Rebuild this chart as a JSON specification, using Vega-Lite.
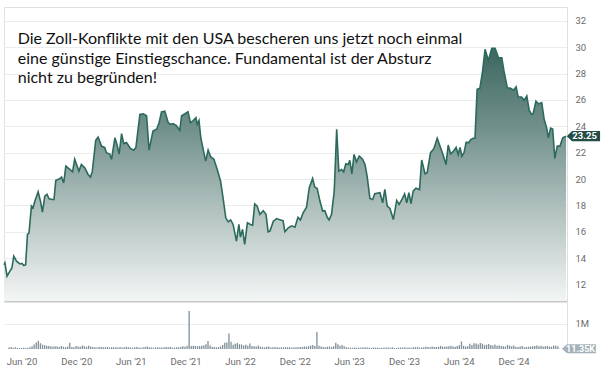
{
 "$schema": "https://vega.github.io/schema/vega-lite/v6.json",
 "padding": {"left": 0, "top": 6, "right": 0, "bottom": 0},
 "background": "white",
 "spacing": 0,
 "config": {"view": {"stroke": null}, "axis": {"labelFont": "Roboto", "labelColor": "#6a6a6a", "labelFontSize": 9.5, "title": null}},
 "datasets": {
  "price": [
{"d":"2020-04-20","p":13.5},{"d":"2020-04-23","p":13.64},{"d":"2020-04-30","p":12.63},{"d":"2020-05-09","p":13.0},{"d":"2020-05-16","p":13.26},{"d":"2020-05-22","p":14.15},{"d":"2020-05-31","p":13.77},{"d":"2020-06-11","p":13.56},{"d":"2020-06-18","p":13.6},{"d":"2020-06-24","p":13.44},{"d":"2020-06-30","p":13.5},{"d":"2020-07-06","p":15.8},{"d":"2020-07-11","p":15.9},{"d":"2020-07-19","p":17.95},{"d":"2020-07-24","p":17.8},{"d":"2020-07-30","p":18.3},{"d":"2020-08-10","p":19.03},{"d":"2020-08-18","p":18.3},{"d":"2020-08-24","p":17.5},{"d":"2020-09-01","p":18.7},{"d":"2020-09-08","p":18.85},{"d":"2020-09-15","p":18.5},{"d":"2020-09-26","p":18.45},{"d":"2020-10-01","p":18.45},{"d":"2020-10-07","p":19.9},{"d":"2020-10-18","p":20.0},{"d":"2020-10-26","p":20.15},{"d":"2020-11-02","p":19.7},{"d":"2020-11-09","p":20.98},{"d":"2020-11-22","p":20.73},{"d":"2020-12-01","p":20.55},{"d":"2020-12-08","p":21.5},{"d":"2020-12-16","p":20.98},{"d":"2020-12-22","p":20.6},{"d":"2020-12-30","p":21.1},
{"d":"2021-01-10","p":20.85},{"d":"2021-01-21","p":20.35},{"d":"2021-01-29","p":20.15},{"d":"2021-02-04","p":20.6},{"d":"2021-02-15","p":22.93},{"d":"2021-02-23","p":23.18},{"d":"2021-03-06","p":22.5},{"d":"2021-03-17","p":22.38},{"d":"2021-03-22","p":22.0},{"d":"2021-04-02","p":21.9},{"d":"2021-04-08","p":21.5},{"d":"2021-04-19","p":23.13},{"d":"2021-04-26","p":22.6},{"d":"2021-05-03","p":21.9},{"d":"2021-05-11","p":23.44},{"d":"2021-05-18","p":22.69},{"d":"2021-05-27","p":22.77},{"d":"2021-06-09","p":22.33},{"d":"2021-06-20","p":22.18},{"d":"2021-06-27","p":22.4},{"d":"2021-07-10","p":24.9},{"d":"2021-07-21","p":24.95},{"d":"2021-08-01","p":24.8},{"d":"2021-08-09","p":22.2},{"d":"2021-08-22","p":23.64},{"d":"2021-09-03","p":23.77},{"d":"2021-09-11","p":24.27},{"d":"2021-09-19","p":25.1},{"d":"2021-09-30","p":25.15},{"d":"2021-10-11","p":24.27},{"d":"2021-10-19","p":24.14},{"d":"2021-10-27","p":24.2},{"d":"2021-11-07","p":24.06},{"d":"2021-11-18","p":23.69},{"d":"2021-11-24","p":24.8},{"d":"2021-12-05","p":24.95},{"d":"2021-12-15","p":25.1},{"d":"2021-12-23","p":24.27},
{"d":"2022-01-01","p":24.44},{"d":"2022-01-10","p":24.65},{"d":"2022-01-14","p":24.14},{"d":"2022-01-20","p":24.44},{"d":"2022-01-26","p":23.13},{"d":"2022-02-05","p":22.0},{"d":"2022-02-11","p":21.36},{"d":"2022-02-19","p":22.2},{"d":"2022-02-27","p":21.7},{"d":"2022-03-10","p":21.5},{"d":"2022-03-21","p":20.73},{"d":"2022-04-01","p":19.84},{"d":"2022-04-09","p":18.58},{"d":"2022-04-18","p":17.06},{"d":"2022-04-26","p":16.75},{"d":"2022-05-04","p":16.9},{"d":"2022-05-12","p":16.56},{"d":"2022-05-23","p":15.29},{"d":"2022-05-31","p":16.56},{"d":"2022-06-05","p":15.6},{"d":"2022-06-12","p":16.18},{"d":"2022-06-19","p":15.04},{"d":"2022-06-28","p":16.68},{"d":"2022-07-08","p":16.56},{"d":"2022-07-15","p":16.5},{"d":"2022-07-22","p":18.12},{"d":"2022-07-30","p":17.95},{"d":"2022-08-08","p":17.32},{"d":"2022-08-19","p":17.6},{"d":"2022-08-28","p":17.32},{"d":"2022-09-04","p":16.0},{"d":"2022-09-10","p":16.05},{"d":"2022-09-21","p":16.8},{"d":"2022-10-02","p":17.0},{"d":"2022-10-15","p":16.9},{"d":"2022-10-23","p":16.85},{"d":"2022-10-29","p":16.0},{"d":"2022-11-09","p":16.3},{"d":"2022-11-20","p":16.45},{"d":"2022-12-01","p":16.35},{"d":"2022-12-11","p":17.1},{"d":"2022-12-19","p":16.9},{"d":"2022-12-28","p":17.44},
{"d":"2023-01-08","p":17.87},{"d":"2023-01-17","p":19.34},{"d":"2023-01-28","p":20.05},{"d":"2023-02-04","p":19.4},{"d":"2023-02-12","p":19.29},{"d":"2023-02-21","p":18.33},{"d":"2023-03-02","p":17.57},{"d":"2023-03-09","p":17.6},{"d":"2023-03-17","p":17.1},{"d":"2023-03-23","p":16.9},{"d":"2023-03-31","p":17.3},{"d":"2023-04-09","p":19.08},{"d":"2023-04-17","p":23.77},{"d":"2023-04-24","p":20.6},{"d":"2023-05-03","p":20.73},{"d":"2023-05-10","p":20.55},{"d":"2023-05-17","p":21.16},{"d":"2023-05-25","p":21.1},{"d":"2023-05-30","p":21.42},{"d":"2023-06-06","p":20.4},{"d":"2023-06-13","p":21.87},{"d":"2023-06-21","p":21.3},{"d":"2023-06-30","p":21.74},{"d":"2023-07-11","p":21.5},{"d":"2023-07-19","p":21.1},{"d":"2023-07-26","p":20.2},{"d":"2023-08-04","p":18.53},{"d":"2023-08-13","p":18.45},{"d":"2023-08-20","p":18.88},{"d":"2023-09-06","p":18.96},{"d":"2023-09-15","p":18.2},{"d":"2023-09-22","p":19.21},{"d":"2023-09-30","p":17.95},{"d":"2023-10-09","p":17.77},{"d":"2023-10-20","p":16.93},{"d":"2023-10-31","p":18.38},{"d":"2023-11-08","p":18.08},{"d":"2023-11-19","p":18.53},{"d":"2023-11-26","p":18.88},{"d":"2023-12-03","p":18.2},{"d":"2023-12-10","p":18.96},{"d":"2023-12-17","p":18.13},{"d":"2023-12-24","p":19.08},
{"d":"2024-01-02","p":19.3},{"d":"2024-01-14","p":19.2},{"d":"2024-01-21","p":21.45},{"d":"2024-02-01","p":20.4},{"d":"2024-02-08","p":20.48},{"d":"2024-02-19","p":22.0},{"d":"2024-03-01","p":22.3},{"d":"2024-03-12","p":23.09},{"d":"2024-03-21","p":22.5},{"d":"2024-03-30","p":21.92},{"d":"2024-04-10","p":21.1},{"d":"2024-04-17","p":22.58},{"d":"2024-04-25","p":21.92},{"d":"2024-05-04","p":22.1},{"d":"2024-05-13","p":22.4},{"d":"2024-05-20","p":21.86},{"d":"2024-05-26","p":22.4},{"d":"2024-06-01","p":21.74},{"d":"2024-06-08","p":22.0},{"d":"2024-06-15","p":22.8},{"d":"2024-06-23","p":22.75},{"d":"2024-06-30","p":23.0},{"d":"2024-07-08","p":23.1},{"d":"2024-07-14","p":23.1},{"d":"2024-07-21","p":26.8},{"d":"2024-07-30","p":26.88},{"d":"2024-08-08","p":28.2},{"d":"2024-08-16","p":29.84},{"d":"2024-08-27","p":29.0},{"d":"2024-09-07","p":29.92},{"d":"2024-09-18","p":29.92},{"d":"2024-09-29","p":29.2},{"d":"2024-10-10","p":29.2},{"d":"2024-10-17","p":28.2},{"d":"2024-10-28","p":26.93},{"d":"2024-11-08","p":26.88},{"d":"2024-11-17","p":26.74},{"d":"2024-11-26","p":27.0},{"d":"2024-12-03","p":26.22},{"d":"2024-12-14","p":26.22},{"d":"2024-12-22","p":25.97},{"d":"2024-12-31","p":26.3},
{"d":"2025-01-08","p":25.2},{"d":"2025-01-16","p":24.9},{"d":"2025-01-21","p":24.95},{"d":"2025-01-30","p":25.9},{"d":"2025-02-07","p":25.7},{"d":"2025-02-18","p":25.8},{"d":"2025-02-26","p":24.53},{"d":"2025-03-06","p":23.9},{"d":"2025-03-12","p":23.13},{"d":"2025-03-19","p":23.86},{"d":"2025-03-26","p":23.8},{"d":"2025-04-02","p":21.57},{"d":"2025-04-10","p":22.5},{"d":"2025-04-19","p":22.5},{"d":"2025-04-28","p":23.13},{"d":"2025-05-09","p":23.25}
  ],
  "vol": [
{"d":"2020-04-20","v":60000},{"d":"2020-04-27","v":80000},{"d":"2020-05-04","v":50000},{"d":"2020-05-11","v":70000},{"d":"2020-05-18","v":40000},{"d":"2020-05-25","v":35000},{"d":"2020-06-01","v":40000},{"d":"2020-06-08","v":45000},{"d":"2020-06-15","v":40000},{"d":"2020-06-22","v":50000},{"d":"2020-06-29","v":65000},{"d":"2020-07-06","v":110000},{"d":"2020-07-13","v":180000},{"d":"2020-07-20","v":260000},{"d":"2020-07-27","v":330000},{"d":"2020-08-03","v":230000},{"d":"2020-08-10","v":170000},{"d":"2020-08-17","v":150000},{"d":"2020-08-24","v":130000},{"d":"2020-08-31","v":120000},{"d":"2020-09-07","v":110000},{"d":"2020-09-14","v":90000},{"d":"2020-09-21","v":110000},{"d":"2020-09-28","v":100000},{"d":"2020-10-05","v":80000},{"d":"2020-10-12","v":120000},{"d":"2020-10-19","v":90000},{"d":"2020-10-26","v":70000},{"d":"2020-11-02","v":100000},{"d":"2020-11-09","v":250000},{"d":"2020-11-16","v":80000},{"d":"2020-11-23","v":70000},{"d":"2020-11-30","v":120000},{"d":"2020-12-07","v":100000},{"d":"2020-12-14","v":90000},{"d":"2020-12-21","v":140000},{"d":"2020-12-28","v":110000},
{"d":"2021-01-04","v":90000},{"d":"2021-01-11","v":130000},{"d":"2021-01-18","v":100000},{"d":"2021-01-25","v":80000},{"d":"2021-02-01","v":70000},{"d":"2021-02-08","v":60000},{"d":"2021-02-15","v":75000},{"d":"2021-02-22","v":80000},{"d":"2021-03-01","v":65000},{"d":"2021-03-08","v":70000},{"d":"2021-03-15","v":85000},{"d":"2021-03-22","v":60000},{"d":"2021-03-29","v":70000},{"d":"2021-04-05","v":65000},{"d":"2021-04-12","v":70000},{"d":"2021-04-19","v":60000},{"d":"2021-04-26","v":80000},{"d":"2021-05-03","v":55000},{"d":"2021-05-10","v":65000},{"d":"2021-05-17","v":90000},{"d":"2021-05-24","v":70000},{"d":"2021-05-31","v":60000},{"d":"2021-06-07","v":55000},{"d":"2021-06-14","v":70000},{"d":"2021-06-21","v":80000},{"d":"2021-06-28","v":60000},{"d":"2021-07-05","v":50000},{"d":"2021-07-12","v":65000},{"d":"2021-07-19","v":75000},{"d":"2021-07-26","v":100000},{"d":"2021-08-02","v":70000},{"d":"2021-08-09","v":60000},{"d":"2021-08-16","v":55000},{"d":"2021-08-23","v":65000},{"d":"2021-08-30","v":70000},{"d":"2021-09-06","v":60000},{"d":"2021-09-13","v":55000},{"d":"2021-09-20","v":65000},{"d":"2021-09-27","v":80000},{"d":"2021-10-04","v":70000},{"d":"2021-10-11","v":90000},{"d":"2021-10-18","v":60000},{"d":"2021-10-25","v":55000},{"d":"2021-11-01","v":70000},{"d":"2021-11-08","v":65000},{"d":"2021-11-15","v":80000},{"d":"2021-11-22","v":110000},{"d":"2021-11-29","v":90000},{"d":"2021-12-06","v":130000},{"d":"2021-12-13","v":1500000},{"d":"2021-12-20","v":120000},{"d":"2021-12-27","v":130000},
{"d":"2022-01-03","v":120000},{"d":"2022-01-10","v":110000},{"d":"2022-01-17","v":120000},{"d":"2022-01-24","v":130000},{"d":"2022-01-31","v":150000},{"d":"2022-02-07","v":190000},{"d":"2022-02-14","v":320000},{"d":"2022-02-21","v":140000},{"d":"2022-02-28","v":90000},{"d":"2022-03-07","v":80000},{"d":"2022-03-14","v":70000},{"d":"2022-03-21","v":80000},{"d":"2022-03-28","v":100000},{"d":"2022-04-04","v":160000},{"d":"2022-04-11","v":250000},{"d":"2022-04-18","v":260000},{"d":"2022-04-25","v":610000},{"d":"2022-05-02","v":290000},{"d":"2022-05-09","v":170000},{"d":"2022-05-16","v":210000},{"d":"2022-05-23","v":240000},{"d":"2022-05-30","v":190000},{"d":"2022-06-06","v":180000},{"d":"2022-06-13","v":140000},{"d":"2022-06-20","v":170000},{"d":"2022-06-27","v":130000},{"d":"2022-07-04","v":220000},{"d":"2022-07-11","v":120000},{"d":"2022-07-18","v":110000},{"d":"2022-07-25","v":100000},{"d":"2022-08-01","v":140000},{"d":"2022-08-08","v":90000},{"d":"2022-08-15","v":80000},{"d":"2022-08-22","v":70000},{"d":"2022-08-29","v":90000},{"d":"2022-09-05","v":100000},{"d":"2022-09-12","v":60000},{"d":"2022-09-19","v":70000},{"d":"2022-09-26","v":80000},{"d":"2022-10-03","v":65000},{"d":"2022-10-10","v":55000},{"d":"2022-10-17","v":70000},{"d":"2022-10-24","v":60000},{"d":"2022-10-31","v":80000},{"d":"2022-11-07","v":70000},{"d":"2022-11-14","v":65000},{"d":"2022-11-21","v":60000},{"d":"2022-11-28","v":55000},{"d":"2022-12-05","v":70000},{"d":"2022-12-12","v":65000},{"d":"2022-12-19","v":75000},{"d":"2022-12-26","v":80000},
{"d":"2023-01-02","v":100000},{"d":"2023-01-09","v":90000},{"d":"2023-01-16","v":110000},{"d":"2023-01-23","v":130000},{"d":"2023-01-30","v":160000},{"d":"2023-02-06","v":120000},{"d":"2023-02-13","v":670000},{"d":"2023-02-20","v":130000},{"d":"2023-02-27","v":100000},{"d":"2023-03-06","v":80000},{"d":"2023-03-13","v":70000},{"d":"2023-03-20","v":90000},{"d":"2023-03-27","v":100000},{"d":"2023-04-03","v":80000},{"d":"2023-04-10","v":110000},{"d":"2023-04-17","v":250000},{"d":"2023-04-24","v":190000},{"d":"2023-05-01","v":130000},{"d":"2023-05-08","v":160000},{"d":"2023-05-15","v":110000},{"d":"2023-05-22","v":70000},{"d":"2023-05-29","v":60000},{"d":"2023-06-05","v":55000},{"d":"2023-06-12","v":50000},{"d":"2023-06-19","v":60000},{"d":"2023-06-26","v":45000},{"d":"2023-07-03","v":50000},{"d":"2023-07-10","v":55000},{"d":"2023-07-17","v":60000},{"d":"2023-07-24","v":70000},{"d":"2023-07-31","v":55000},{"d":"2023-08-07","v":50000},{"d":"2023-08-14","v":45000},{"d":"2023-08-21","v":60000},{"d":"2023-08-28","v":55000},{"d":"2023-09-04","v":50000},{"d":"2023-09-11","v":40000},{"d":"2023-09-18","v":45000},{"d":"2023-09-25","v":50000},{"d":"2023-10-02","v":60000},{"d":"2023-10-09","v":55000},{"d":"2023-10-16","v":50000},{"d":"2023-10-23","v":65000},{"d":"2023-10-30","v":45000},{"d":"2023-11-06","v":40000},{"d":"2023-11-13","v":50000},{"d":"2023-11-20","v":55000},{"d":"2023-11-27","v":60000},{"d":"2023-12-04","v":70000},{"d":"2023-12-11","v":50000},{"d":"2023-12-18","v":60000},{"d":"2023-12-25","v":50000},
{"d":"2024-01-01","v":65000},{"d":"2024-01-08","v":70000},{"d":"2024-01-15","v":80000},{"d":"2024-01-22","v":55000},{"d":"2024-01-29","v":60000},{"d":"2024-02-05","v":70000},{"d":"2024-02-12","v":90000},{"d":"2024-02-19","v":80000},{"d":"2024-02-26","v":70000},{"d":"2024-03-04","v":100000},{"d":"2024-03-11","v":75000},{"d":"2024-03-18","v":80000},{"d":"2024-03-25","v":90000},{"d":"2024-04-01","v":120000},{"d":"2024-04-08","v":100000},{"d":"2024-04-15","v":85000},{"d":"2024-04-22","v":95000},{"d":"2024-04-29","v":110000},{"d":"2024-05-06","v":130000},{"d":"2024-05-13","v":100000},{"d":"2024-05-20","v":90000},{"d":"2024-05-27","v":120000},{"d":"2024-06-03","v":150000},{"d":"2024-06-10","v":300000},{"d":"2024-06-17","v":130000},{"d":"2024-06-24","v":100000},{"d":"2024-07-01","v":110000},{"d":"2024-07-08","v":210000},{"d":"2024-07-15","v":160000},{"d":"2024-07-22","v":230000},{"d":"2024-07-29","v":220000},{"d":"2024-08-05","v":180000},{"d":"2024-08-12","v":240000},{"d":"2024-08-19","v":210000},{"d":"2024-08-26","v":150000},{"d":"2024-09-02","v":170000},{"d":"2024-09-09","v":200000},{"d":"2024-09-16","v":160000},{"d":"2024-09-23","v":140000},{"d":"2024-09-30","v":180000},{"d":"2024-10-07","v":130000},{"d":"2024-10-14","v":150000},{"d":"2024-10-21","v":120000},{"d":"2024-10-28","v":110000},{"d":"2024-11-04","v":100000},{"d":"2024-11-11","v":160000},{"d":"2024-11-18","v":130000},{"d":"2024-11-25","v":110000},{"d":"2024-12-02","v":140000},{"d":"2024-12-09","v":90000},{"d":"2024-12-16","v":80000},{"d":"2024-12-23","v":100000},{"d":"2024-12-30","v":120000},
{"d":"2025-01-06","v":70000},{"d":"2025-01-13","v":80000},{"d":"2025-01-20","v":90000},{"d":"2025-01-27","v":100000},{"d":"2025-02-03","v":110000},{"d":"2025-02-10","v":120000},{"d":"2025-02-17","v":140000},{"d":"2025-02-24","v":110000},{"d":"2025-03-03","v":130000},{"d":"2025-03-10","v":100000},{"d":"2025-03-17","v":110000},{"d":"2025-03-24","v":120000},{"d":"2025-03-31","v":100000},{"d":"2025-04-07","v":90000},{"d":"2025-04-14","v":140000},{"d":"2025-04-21","v":130000},{"d":"2025-04-28","v":110000},{"d":"2025-05-05","v":11350}
  ],
  "note": [
   {"d":"2020-06-04","p":30.24,"t":"Die Zoll-Konflikte mit den USA bescheren uns jetzt noch einmal"},
   {"d":"2020-06-04","p":28.76,"t":"eine günstige Einstiegschance. Fundamental ist der Absturz"},
   {"d":"2020-06-04","p":27.29,"t":"nicht zu begründen!"}
  ],
  "last": [{"d":"2025-05-09","p":23.25,"v":11350,"vt":"11.35K"}]
 },
 "vconcat": [
  {
   "width": 563,
   "height": 294,
   "view": {"stroke": "#e0e0e0"},
   "encoding": {
    "x": {"field": "d", "type": "temporal",
     "scale": {"type": "utc", "domain": [{"year": 2020, "month": 4, "date": 20, "utc": true}, {"year": 2025, "month": 5, "date": 12, "utc": true}]},
     "axis": {"labels": false, "ticks": false, "grid": false, "domain": true, "domainColor": "#c8c8c8", "domainWidth": 2}},
    "y": {"field": "p", "type": "quantitative", "scale": {"domain": [10.75, 33.05], "nice": false, "zero": false},
     "axis": {"orient": "right", "values": [12, 14, 16, 18, 20, 22, 24, 26, 28, 30, 32], "labelOverlap": false, "grid": true, "gridColor": "#ececec", "ticks": false, "tickSize": 0, "labelPadding": 8, "domain": true, "domainColor": "#e0e0e0"}}
   },
   "layer": [
    {
     "data": {"name": "price"},
     "mark": {"type": "area", "color": {"gradient": "linear", "x1": 0, "y1": 0, "x2": 0, "y2": 1,
      "stops": [{"offset": 0, "color": "#3c665f"}, {"offset": 0.3, "color": "#6f8e89"}, {"offset": 0.6, "color": "#a9bbb8"}, {"offset": 1, "color": "#f3f5f5"}]}},
     "encoding": {"y2": {"datum": 10.75}}
    },
    {
     "data": {"name": "price"},
     "mark": {"type": "line", "color": "#2c6a5d", "strokeWidth": 1.6}
    },
    {
     "data": {"name": "note"},
     "mark": {"type": "text", "align": "left", "baseline": "alphabetic", "font": "Lato", "fontSize": 16, "color": "#111111"},
     "encoding": {"text": {"field": "t"}}
    },
    {
     "data": {"name": "last"},
     "mark": {"type": "point", "shape": "M-1,0L-0.68,-0.31L1,-0.31L1,0.31L-0.68,0.31Z", "size": 1109, "filled": true, "opacity": 1, "color": "#234d46", "strokeWidth": 0, "xOffset": 17.3}
    },
    {
     "data": {"name": "last"},
     "mark": {"type": "text", "font": "Roboto", "fontSize": 9.5, "fontWeight": "bold", "color": "white", "align": "center", "baseline": "middle", "xOffset": 18.5},
     "encoding": {"text": {"field": "p", "type": "quantitative", "format": ".2f"}}
    }
   ]
  },
  {
   "width": 563,
   "height": 47,
   "encoding": {
    "x": {"field": "d", "type": "temporal",
     "scale": {"type": "utc", "domain": [{"year": 2020, "month": 4, "date": 20, "utc": true}, {"year": 2025, "month": 5, "date": 12, "utc": true}]},
     "axis": {"values": [{"year": 2020, "month": 6, "date": 1, "utc": true}, {"year": 2020, "month": 12, "date": 1, "utc": true}, {"year": 2021, "month": 6, "date": 1, "utc": true}, {"year": 2021, "month": 12, "date": 1, "utc": true}, {"year": 2022, "month": 6, "date": 1, "utc": true}, {"year": 2022, "month": 12, "date": 1, "utc": true}, {"year": 2023, "month": 6, "date": 1, "utc": true}, {"year": 2023, "month": 12, "date": 1, "utc": true}, {"year": 2024, "month": 6, "date": 1, "utc": true}, {"year": 2024, "month": 12, "date": 1, "utc": true}],
      "format": "%b '%y", "ticks": false, "tickSize": 0, "domain": false, "grid": false, "labelPadding": 7, "labelFontSize": 9.5, "labelOverlap": false}},
    "y": {"field": "v", "type": "quantitative", "scale": {"domain": [0, 1860000], "nice": false},
     "axis": {"orient": "right", "values": [1000000], "format": "~s", "grid": true, "gridColor": "#ededed", "ticks": false, "tickSize": 0, "labelPadding": 8, "domain": true, "domainColor": "#e0e0e0"}}
   },
   "layer": [
    {
     "data": {"name": "vol"},
     "mark": {"type": "bar", "width": 1.3, "color": "#7f8f99"}
    },
    {
     "data": {"name": "last"},
     "mark": {"type": "point", "shape": "M-1,0L-0.7,-0.27L1,-0.27L1,0.27L-0.7,0.27Z", "size": 1150, "filled": true, "opacity": 1, "color": "#a3b1b8", "strokeWidth": 0, "xOffset": 17.8}
    },
    {
     "data": {"name": "last"},
     "mark": {"type": "text", "font": "Roboto", "fontSize": 9, "fontWeight": "bold", "color": "white", "align": "center", "baseline": "middle", "xOffset": 19.5},
     "encoding": {"text": {"field": "vt"}}
    }
   ]
  }
 ]
}
